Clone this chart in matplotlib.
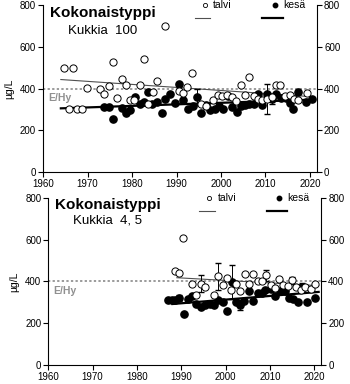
import matplotlib

matplotlib.use("Agg")
import matplotlib.pyplot as plt
from matplotlib.lines import Line2D

plt.rcParams["font.family"] = ["Liberation Sans", "DejaVu Sans"]

# Kukkia 100
talvi1_year = [1964.8, 1965.8, 1966.8, 1967.7, 1968.7, 1969.8, 1972.7, 1973.7, 1974.8, 1975.7,
               1976.7, 1977.8, 1978.7, 1979.6, 1980.5, 1981.7, 1982.7, 1983.7, 1984.8, 1985.6,
               1987.4, 1990.5, 1991.4, 1992.4, 1993.4, 1995.4, 1996.6, 1998.3, 1999.3, 2000.3,
               2001.4, 2002.4, 2003.3, 2004.4, 2005.4, 2006.3, 2007.4, 2008.3, 2009.3, 2010.3,
               2011.4, 2012.4, 2013.3, 2014.3, 2015.5, 2016.4, 2017.3, 2019.3]
talvi1_val = [500, 300, 500, 300, 300, 403, 400, 373, 413, 525,
              355, 445, 415, 345, 345, 415, 542, 324, 385, 435,
              700, 390, 378, 405, 472, 328, 318, 344, 368, 362,
              370, 358, 340, 416, 368, 453, 362, 350, 345, 350,
              360, 416, 416, 362, 370, 350, 345, 377]
talvi1_err = {2010.3: 70, 1996.6: 15}

kesa1_year = [1973.7, 1974.8, 1975.8, 1977.7, 1978.7, 1979.6, 1980.7, 1981.7, 1982.7, 1983.7,
              1984.6, 1985.6, 1986.7, 1987.4, 1988.6, 1989.6, 1990.5, 1991.4, 1992.6, 1993.6,
              1994.5, 1995.5, 1996.6, 1997.5, 1998.6, 1999.5, 2000.5, 2001.5, 2002.5, 2003.5,
              2004.4, 2005.4, 2006.3, 2007.4, 2008.3, 2009.3, 2010.3, 2011.4, 2012.3, 2013.5,
              2014.5, 2015.5, 2016.2, 2017.2, 2019.2, 2020.4]
kesa1_val = [312, 312, 252, 305, 284, 297, 360, 325, 336, 383,
             325, 336, 284, 349, 372, 330, 424, 344, 300, 315,
             360, 285, 320, 295, 300, 315, 300, 363, 312, 289,
             315, 320, 325, 325, 373, 320, 373, 348, 373, 355,
             355, 330, 300, 383, 335, 348]
kesa1_err = {1994.5: 40, 2011.4: 20}

# Kukkia 4, 5
talvi2_year = [1988.5, 1989.4, 1990.4, 1992.5, 1993.4, 1994.4, 1995.4, 1997.4, 1998.3, 1999.4,
               2000.4, 2001.3, 2002.4, 2003.3, 2004.3, 2005.2, 2006.3, 2007.3, 2008.2, 2009.1,
               2010.3, 2011.2, 2012.1, 2013.0, 2014.0, 2015.0, 2016.0, 2017.0, 2018.0, 2019.2,
               2020.1]
talvi2_val = [450, 440, 610, 387, 336, 389, 373, 333, 425, 384,
              416, 357, 389, 352, 435, 389, 438, 400, 400, 429,
              385, 370, 410, 385, 380, 405, 375, 360, 373, 365,
              390]
talvi2_err = {1994.4: 40, 1998.3: 65, 2009.1: 25, 2015.0: 18}

kesa2_year = [1987.0, 1987.8, 1988.5, 1989.4, 1990.6, 1991.5, 1992.5, 1993.4, 1994.4, 1995.4,
              1996.4, 1997.3, 1998.4, 1999.4, 2000.4, 2001.4, 2002.4, 2003.3, 2004.2, 2005.2,
              2006.3, 2007.3, 2008.2, 2009.0, 2010.2, 2011.2, 2012.2, 2013.3, 2014.2, 2015.2,
              2016.3, 2017.3, 2018.3, 2020.2]
kesa2_val = [310, 312, 309, 320, 242, 318, 330, 291, 278, 286,
             291, 288, 309, 300, 258, 397, 304, 288, 306, 354,
             306, 343, 346, 357, 365, 330, 352, 352, 323, 315,
             304, 373, 304, 320]
kesa2_err = {1989.4: 15, 2001.4: 80, 2003.3: 25, 2017.3: 20}

# trend line end points (year, value)
trend1_talvi = ([1964, 2021], [443, 360])
trend1_kesa = ([1964, 2021], [305, 347])
trend2_talvi = ([1989, 2021], [418, 380])
trend2_kesa = ([1988, 2021], [292, 350])

panels = [
    dict(rect=[0.123, 0.552, 0.783, 0.435], site="Kukkia  100",
         talvi=(talvi1_year, talvi1_val, talvi1_err), kesa=(kesa1_year, kesa1_val, kesa1_err),
         trends=(trend1_talvi, trend1_kesa), sub_y=0.844),
    dict(rect=[0.138, 0.0495, 0.78, 0.435], site="Kukkia  4, 5",
         talvi=(talvi2_year, talvi2_val, talvi2_err), kesa=(kesa2_year, kesa2_val, kesa2_err),
         trends=(trend2_talvi, trend2_kesa), sub_y=0.865),
]

fig = plt.figure(figsize=(3.5, 3.84), dpi=100)

for p in panels:
    ax = fig.add_axes(p["rect"])
    ax.set_xlim(1960, 2021.6)
    ax.set_ylim(0, 800)
    ax.set_xticks(range(1960, 2021, 10))
    ax.set_yticks(range(0, 801, 200))
    ax.spines["top"].set_visible(False)
    for s in ("left", "right", "bottom"):
        ax.spines[s].set_linewidth(0.8)
    ax.tick_params(direction="out", length=3.5, width=0.8, labelsize=7,
                   right=True, labelright=True, pad=1.5)
    ax.set_ylabel("µg/L", fontsize=7.5, labelpad=4)

    ax.axhline(400, color="#808080", linestyle=(0, (1.5, 1.5)), linewidth=1.1, zorder=1)
    ax.text(1961.2, 355, "E/Hy", color="#909090", fontsize=7.5, fontweight="bold",
            va="center", ha="left")

    (tx, ty), (kx, ky) = p["trends"]
    ax.plot(tx, ty, color="#505050", linewidth=0.8, zorder=2)
    ax.plot(kx, ky, color="black", linewidth=1.6, zorder=2)

    ky_, kv, ke = p["kesa"]
    for x, v in zip(ky_, kv):
        if x in ke:
            ax.errorbar(x, v, yerr=ke[x], color="black", linewidth=0.7, capsize=2, zorder=3)
    ax.plot(ky_, kv, "o", color="black", markersize=5.2, zorder=4)

    tyr, tv, te = p["talvi"]
    for x, v in zip(tyr, tv):
        if x in te:
            ax.errorbar(x, v, yerr=te[x], color="black", linewidth=0.7, capsize=2, zorder=3)
    ax.plot(tyr, tv, "o", markerfacecolor="white", markeredgecolor="black",
            markeredgewidth=0.7, markersize=5.2, zorder=5)

    ax.text(0.026, 0.955, "Kokonaistyppi", transform=ax.transAxes, fontsize=11,
            fontweight="heavy", va="center", ha="left")
    ax.text(0.091, p["sub_y"], p["site"], transform=ax.transAxes, fontsize=9.5,
            va="center", ha="left")

    # legend: marker and label on top, trend line below
    ax.plot([0.59], [1.0], "o", transform=ax.transAxes, markersize=3,
            markerfacecolor="white", markeredgecolor="black", markeredgewidth=0.6,
            clip_on=False)
    ax.text(0.62, 1.0, "talvi", transform=ax.transAxes, fontsize=7.5, va="center")
    ax.add_line(Line2D([0.553, 0.61], [0.922, 0.922], transform=ax.transAxes,
                       color="#505050", linewidth=0.8))
    ax.plot([0.845], [1.0], "o", transform=ax.transAxes, markersize=3.2,
            color="black", clip_on=False)
    ax.text(0.875, 1.0, "kesä", transform=ax.transAxes, fontsize=7.5, va="center")
    ax.add_line(Line2D([0.8, 0.875], [0.922, 0.922], transform=ax.transAxes,
                       color="black", linewidth=1.6))

fig.savefig("out.png", dpi=100)
